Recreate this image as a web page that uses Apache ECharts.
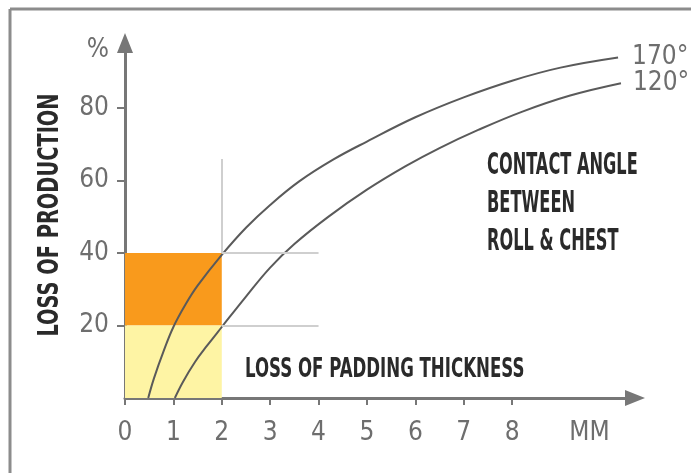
<!DOCTYPE html>
<html>
<head>
<meta charset="utf-8">
<script src="https://cdn.jsdelivr.net/npm/echarts@6/dist/echarts.min.js"></script>
<style>
html,body{margin:0;padding:0;background:#fff;}
#chart{width:691px;height:473px;}
</style>
</head>
<body>
<div id="chart"></div>
<script>
// ---- data ----
const xTickValues = [0, 1, 2, 3, 4, 5, 6, 7, 8];
const xUnit = { value: 9.6, label: 'MM' };
const yTickValues = [20, 40, 60, 80];
const yUnit = { value: 96, label: '%' };

const curve170Name = '170°';
const curve170 = [[0.48,0],[0.6,5.5],[0.8,13],[1.0,19.6],[1.25,25.8],[1.5,31],[2.0,39.5],[2.5,47],[3.0,53.3],[3.6,59.8],[4.3,65.8],[5.0,70.8],[6.0,77.5],[7.0,83],[8.0,87.6],[9.0,91.2],[10.19,94]];
const curve120Name = '120°';
const curve120 = [[1.03,0],[1.2,4.5],[1.45,10],[1.7,14.5],[2.0,19.6],[2.5,28],[3.0,36],[3.5,42.5],[4.2,50],[5.0,57.5],[5.8,64],[6.5,69],[7.3,74],[8.2,79],[9.2,83.5],[10.25,86.9]];

// shaded bands: [x0, y0, x1, y1]
const bandOrange = [0, 20, 2, 40];
const bandYellow = [0, 0, 2, 20];
// guide lines: [x0, y0, x1, y1]
const guideLines = [[2, 40, 2, 66], [2, 40, 4, 40], [2, 20, 4, 20]];

const yAxisTitle = 'LOSS OF PRODUCTION';
const xAxisTitle = 'LOSS OF PADDING THICKNESS';
const legendNote = 'CONTACT ANGLE\nBETWEEN\nROLL & CHEST';

// ---- chart ----
const FONT = '"Liberation Sans Narrow","DejaVu Sans Condensed","Roboto Condensed","Liberation Sans",sans-serif';
const AXIS = '#777';
const LABEL = '#6e6e6e';

const chart = echarts.init(document.getElementById('chart'), null, { renderer: 'canvas' });

const xLabelValues = xTickValues.concat([xUnit.value]);
const yLabelValues = yTickValues.concat([yUnit.value]);

chart.setOption({
  animation: false,
  backgroundColor: '#fff',
  grid: { left: 125, top: 43, right: 56, bottom: 75, containLabel: false },
  xAxis: {
    type: 'value', min: 0, max: 10.54,
    splitLine: { show: false },
    axisLine: { show: true, onZero: false, lineStyle: { color: AXIS, width: 3 }, symbol: ['none', 'triangle'], symbolSize: [16, 20] },
    axisTick: { show: true, customValues: xTickValues, length: 7, lineStyle: { color: AXIS, width: 2 } },
    axisLabel: {
      customValues: xLabelValues, margin: 22, color: LABEL, fontFamily: FONT, fontSize: 26,
      formatter: v => (Math.abs(v - xUnit.value) < 1e-6 ? xUnit.label : String(v))
    }
  },
  yAxis: {
    type: 'value', min: 0, max: 98,
    splitLine: { show: false },
    axisLine: { show: true, onZero: false, lineStyle: { color: AXIS, width: 3 }, symbol: ['none', 'triangle'], symbolSize: [16, 20] },
    axisTick: { show: true, customValues: yTickValues, length: 8, lineStyle: { color: AXIS, width: 2 } },
    axisLabel: {
      customValues: yLabelValues, margin: 16, color: LABEL, fontFamily: FONT, fontSize: 26,
      formatter: v => (Math.abs(v - yUnit.value) < 1e-6 ? yUnit.label : String(v))
    }
  },
  series: [
    {
      type: 'line', data: [], z: 1, silent: true,
      markArea: {
        silent: true,
        label: { show: false },
        data: [
          [{ coord: [bandOrange[0], bandOrange[1]], itemStyle: { color: '#f99a1c' } }, { coord: [bandOrange[2], bandOrange[3]] }],
          [{ coord: [bandYellow[0], bandYellow[1]], itemStyle: { color: '#fef4a4' } }, { coord: [bandYellow[2], bandYellow[3]] }]
        ]
      },
      markLine: {
        silent: true, symbol: ['none', 'none'],
        label: { show: false },
        lineStyle: { color: '#cfcfcf', width: 2, type: 'solid' },
        data: guideLines.map(g => [{ coord: [g[0], g[1]] }, { coord: [g[2], g[3]] }])
      }
    },
    {
      name: curve170Name, type: 'line', data: curve170, z: 3, smooth: 0.4,
      showSymbol: false, lineStyle: { color: '#5a5a5a', width: 2 },
      endLabel: { show: true, formatter: '{a}', distance: 14, color: LABEL, fontFamily: FONT, fontSize: 26 }
    },
    {
      name: curve120Name, type: 'line', data: curve120, z: 3, smooth: 0.4,
      showSymbol: false, lineStyle: { color: '#5a5a5a', width: 2 },
      endLabel: { show: true, formatter: '{a}', distance: 12, color: LABEL, fontFamily: FONT, fontSize: 26 }
    }
  ],
  graphic: [
    { type: 'line', shape: { x1: 10, y1: 9, x2: 691, y2: 9 }, style: { stroke: '#8c8c8c', lineWidth: 3 }, silent: true },
    { type: 'line', shape: { x1: 10, y1: 9, x2: 10, y2: 473 }, style: { stroke: '#8c8c8c', lineWidth: 3 }, silent: true },
    {
      type: 'text', x: 51, y: 215, rotation: Math.PI / 2, scaleX: 0.77,
      style: { text: yAxisTitle, fontFamily: FONT, fontSize: 28, fontWeight: 'bold', fill: '#2a2a2a', align: 'center', verticalAlign: 'middle' }
    },
    {
      type: 'text', x: 245, y: 370, scaleX: 0.71,
      style: { text: xAxisTitle, fontFamily: FONT, fontSize: 26, fontWeight: 'bold', fill: '#2a2a2a', align: 'left', verticalAlign: 'middle' }
    },
    {
      type: 'text', x: 487, y: 147, scaleX: 0.6,
      style: { text: legendNote, fontFamily: FONT, fontSize: 30, lineHeight: 38, fontWeight: 'bold', fill: '#2a2a2a', align: 'left', verticalAlign: 'top' }
    }
  ]
});
</script>
</body>
</html>
